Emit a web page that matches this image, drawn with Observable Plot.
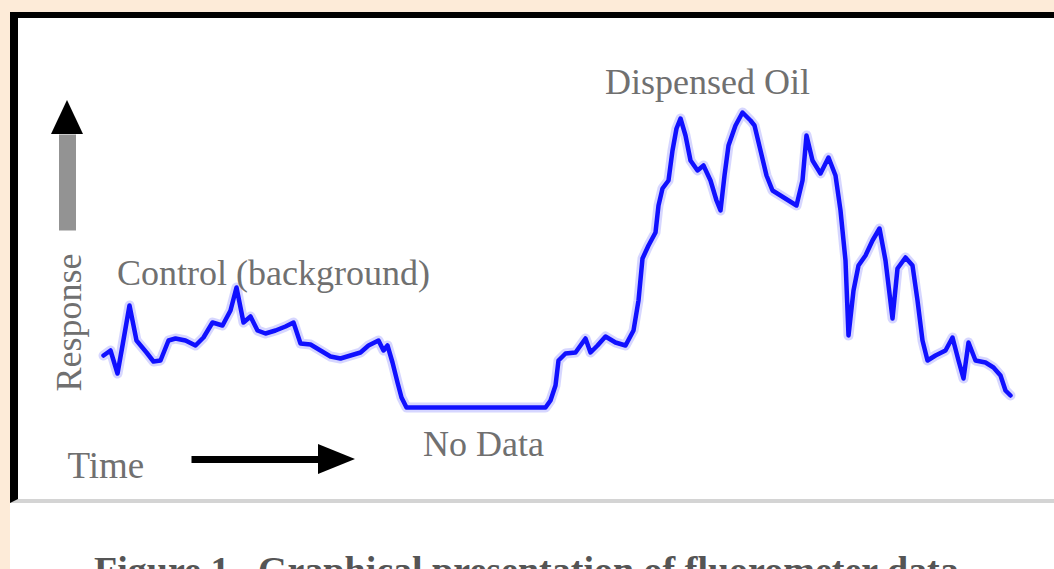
<!DOCTYPE html>
<html><head><meta charset="utf-8">
<script src="https://cdn.jsdelivr.net/npm/d3@7"></script>
<script src="https://cdn.jsdelivr.net/npm/@observablehq/plot@0.6"></script>
<style>
html,body{margin:0;padding:0;width:1054px;height:569px;overflow:hidden;background:#fdebd8;}
#panel{position:absolute;left:10px;top:12px;width:1044px;height:557px;background:#fff;}
#frame{position:absolute;left:10px;top:12px;width:1044px;height:491px;box-sizing:border-box;border-left:8px solid #000;border-top:6px solid #000;border-bottom:4px solid #d4d4d4;}
#chart{position:absolute;left:0;top:0;}
#caption{position:absolute;left:94px;top:551px;font:bold 38px/38px "Liberation Serif",serif;color:#555;white-space:pre;}
</style></head><body>
<div id="panel"></div><div id="frame"></div><div id="chart"></div>
<div id="caption">Figure 1.  Graphical presentation of fluorometer data.</div>
<script>
// Fluorometer trace (arbitrary time units, arbitrary response units)
const time = [3,10,17,22,29,36,46,53,60,68,75,85,95,103,112,122,130,136,143,150,157,165,175,185,193,200,210,220,230,240,250,260,268,278,283,287,292,297,301,306,
  445,450,455,458,465,475,485,490,497,505,515,525,533,538,542,548,555,558,562,568,572,576,580,585,590,597,603,610,616,620,624,628,635,642,650,654,660,666,672,680,688,696,702,706,712,720,728,735,740,745,748,753,758,765,772,779,785,792,797,805,812,817,822,827,835,845,852,858,863,868,875,885,893,900,905,910];
const response = [65,70,47,75,115,80,68,59,60,80,82,80,75,83,98,95,110,133,98,104,90,87,90,94,98,77,76,70,64,62,65,68,75,80,70,75,58,38,23,13,
  13,20,35,60,67,68,82,68,75,84,78,75,90,120,162,175,188,215,232,240,270,292,302,285,260,250,255,240,220,210,245,275,295,308,300,295,270,245,230,225,220,215,240,285,260,247,263,245,210,160,85,130,155,165,180,192,160,102,152,163,155,120,80,60,65,70,83,60,42,78,60,58,53,45,30,25];

// Annotations
const labelText = ["Dispensed Oil", "Control (background)", "No Data"];
const labelTime = [607, 173, 383];
const labelResp = [327, 136, -35];

const axisText = ["Time", "Response"];
const axisTime = [-33, -20];
const axisResp = [-57, 98];
const axisRotate = [0, -90];

// Arrows (shaft start, shaft end, head tip) for Time (x) and Response (y)
const timeArrow = {t1: 91, t2: 218, tip: 255, r: -39, half: 15};
const respArrow = {r1: 190, r2: 286, tip: 320, t: -33, half: 16};

const trace = time.map((t, i) => ({t, r: response[i]}));
const labels = labelText.map((s, i) => ({s, t: labelTime[i], r: labelResp[i]}));
const axes = axisText.map((s, i) => ({s, t: axisTime[i], r: axisResp[i], rot: axisRotate[i]}));

const font = "Liberation Serif, Times New Roman, serif";

const chart = Plot.plot({
  width: 1054, height: 500,
  marginLeft: 100, marginRight: 34, marginTop: 100, marginBottom: 80,
  x: {domain: [0, 920], axis: null},
  y: {domain: [0, 320], axis: null},
  style: {background: "transparent", fontFamily: font},
  marks: [
    Plot.line(trace, {x: "t", y: "r", stroke: "#b4b4ff", strokeWidth: 10, strokeOpacity: 0.55, curve: "linear"}),
    Plot.line(trace, {x: "t", y: "r", stroke: "#1010ff", strokeWidth: 4.5, curve: "linear"}),
    Plot.text(labels, {x: "t", y: "r", text: "s", fontSize: 36, fill: "#707070", textAnchor: "middle", lineAnchor: "bottom", fontFamily: font}),
    Plot.text(axes.filter(d => d.rot === 0), {x: "t", y: "r", text: "s", fontSize: 37, fill: "#707070", textAnchor: "start", lineAnchor: "bottom", fontFamily: font}),
    Plot.text(axes.filter(d => d.rot !== 0), {x: "t", y: "r", text: "s", fontSize: 36, fill: "#707070", textAnchor: "middle", lineAnchor: "bottom", rotate: -90, fontFamily: font}),
    // Time arrow
    Plot.link([timeArrow], {x1: "t1", x2: "t2", y1: "r", y2: "r", stroke: "#000", strokeWidth: 7}),
    Plot.areaY([
      {t: timeArrow.t2, lo: timeArrow.r - timeArrow.half, hi: timeArrow.r + timeArrow.half},
      {t: timeArrow.tip, lo: timeArrow.r, hi: timeArrow.r}
    ], {x: "t", y1: "lo", y2: "hi", fill: "#000"}),
    // Response arrow
    Plot.link([respArrow], {x1: "t", x2: "t", y1: "r1", y2: "r2", stroke: "#939393", strokeWidth: 17}),
    Plot.areaX([
      {r: respArrow.r2, lo: respArrow.t - respArrow.half, hi: respArrow.t + respArrow.half},
      {r: respArrow.tip, lo: respArrow.t, hi: respArrow.t}
    ], {y: "r", x1: "lo", x2: "hi", fill: "#000"})
  ]
});
document.getElementById("chart").appendChild(chart);
</script>
</body></html>
